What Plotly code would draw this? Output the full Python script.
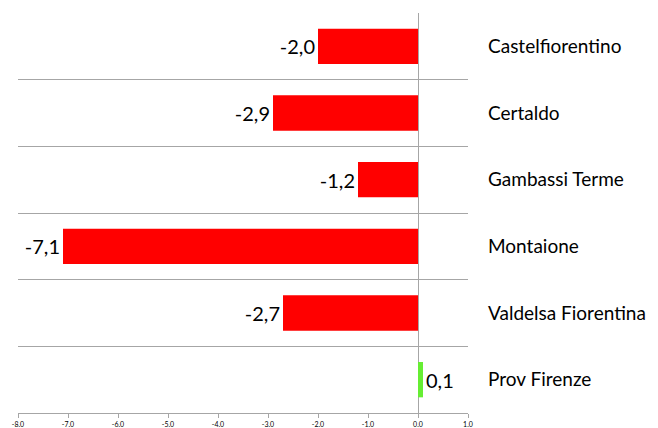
import plotly.graph_objects as go

categories = ["Castelfiorentino", "Certaldo", "Gambassi Terme", "Montaione",
              "Valdelsa Fiorentina", "Prov Firenze"]
values = [-2.0, -2.9, -1.2, -7.1, -2.7, 0.1]
bar_colors = ["#FF0000", "#FF0000", "#FF0000", "#FF0000", "#FF0000", "#66EE33"]
tick_vals = [-8, -7, -6, -5, -4, -3, -2, -1, 0, 1]
tick_text = ["-8.0", "-7.0", "-6.0", "-5.0", "-4.0", "-3.0", "-2.0", "-1.0", "0.0", "1.0"]

labels = [f"{v:.1f}".replace(".", ",") for v in values]

FONT = "Lato, Open Sans, sans-serif"

fig = go.Figure(go.Bar(
    x=values, y=categories, orientation="h",
    marker=dict(color=bar_colors, line=dict(width=0)),
    text=labels, textposition="outside", cliponaxis=False,
    textfont=dict(size=20, color="#000000", family=FONT),
    width=0.53,
))

# page body has an 8px margin, so the figure is sized to the remaining area
fig.update_layout(
    width=650, height=420,
    margin=dict(l=9.5, r=190.3, t=5, b=15, autoexpand=False),
    paper_bgcolor="white", plot_bgcolor="white",
    showlegend=False,
    font=dict(family=FONT, color="#000000"),
    uniformtext=dict(minsize=20, mode="show"),
    xaxis=dict(
        range=[-8, 1], tickvals=tick_vals, ticktext=tick_text,
        tickfont=dict(size=7, color="#000000"),
        showgrid=False, showline=True, linecolor="#A6A6A6", linewidth=1.3,
        ticks="outside", ticklen=4, tickcolor="#A6A6A6", tickwidth=1,
        zeroline=True, zerolinecolor="#A6A6A6", zerolinewidth=1.3,
        automargin=False, fixedrange=True,
    ),
    yaxis=dict(
        type="category", categoryorder="array", categoryarray=categories,
        autorange="reversed", side="right",
        tickson="boundaries", ticks="",
        showgrid=True, gridcolor="#A6A6A6", gridwidth=1.3,
        showline=False, zeroline=False,
        tickfont=dict(size=19, color="#000000", family=FONT),
        ticklabelstandoff=19, automargin=False,
    ),
)

fig.write_html("out.html")
